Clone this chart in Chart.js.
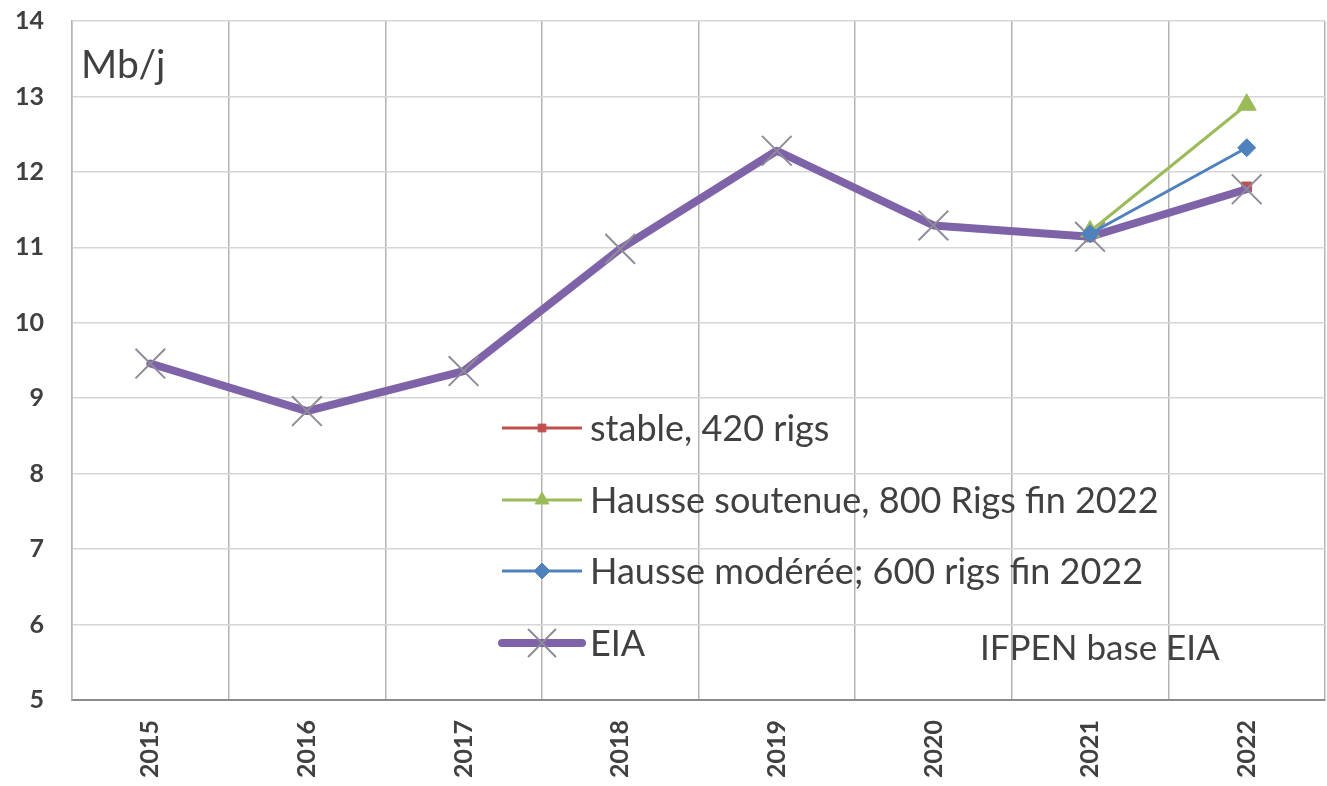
<!DOCTYPE html>
<html>
<head>
<meta charset="utf-8">
<script src="https://cdn.jsdelivr.net/npm/chart.js@4/dist/chart.umd.min.js"></script>
<style>
  html, body { margin: 0; padding: 0; background: #ffffff; overflow: hidden; }
  #wrap { position: relative; width: 1327px; height: 786px; }
  canvas { display: block; }
</style>
</head>
<body>
<div id="wrap"><canvas id="c" width="1327" height="786"></canvas></div>
<script>
// ---- data ----
const years = ['2015', '2016', '2017', '2018', '2019', '2020', '2021', '2022'];
const eia = [9.46, 8.83, 9.36, 10.98, 12.28, 11.29, 11.14, 11.77];
const stable420 = [null, null, null, null, null, null, 11.14, 11.80];
const hausseSoutenue = [null, null, null, null, null, null, 11.21, 12.89];
const hausseModeree = [null, null, null, null, null, null, 11.18, 12.32];
const seriesNames = ['stable, 420 rigs', 'Hausse soutenue, 800 Rigs fin 2022', 'Hausse modérée; 600 rigs fin 2022', 'EIA'];
const yTicks = [5, 6, 7, 8, 9, 10, 11, 12, 13, 14];
const unitLabel = 'Mb/j';
const sourceLabel = 'IFPEN base EIA';

const FONT = 'Lato, "Open Sans", sans-serif';
const TEXT = '#404040';
const RED = '#c0504d', GREEN = '#9bbb59', BLUE = '#4f81bd', PURPLE = '#7f63a8', CROSS = '#8e8c99';

const legendPlugin = {
  id: 'insideLegend',
  afterDatasetsDraw(chart) {
    const ctx = chart.ctx;
    const ys = [428, 500, 571, 643];
    const x0 = 502, x1 = 582, tx = 590;
    ctx.save();
    [0, 1, 2, 3].forEach((idx, i) => {
      const ds = chart.data.datasets[idx];
      const y = ys[i];
      ctx.beginPath();
      ctx.strokeStyle = ds.borderColor;
      ctx.lineWidth = ds.borderWidth;
      ctx.lineCap = idx === 3 ? 'round' : 'butt';
      ctx.moveTo(x0, y);
      ctx.lineTo(x1, y);
      ctx.stroke();
      ctx.fillStyle = ds.pointBackgroundColor;
      ctx.strokeStyle = ds.pointBorderColor;
      ctx.lineWidth = ds.pointBorderWidth;
      Chart.helpers.drawPoint(ctx, {
        pointStyle: ds.pointStyle,
        radius: idx === 3 ? 19 : (idx === 0 ? 5.5 : 8),
        rotation: 0,
        borderWidth: ds.pointBorderWidth
      }, (x0 + x1) / 2, y);
      ctx.fillStyle = TEXT;
      ctx.font = '36px ' + FONT;
      ctx.textBaseline = 'middle';
      ctx.textAlign = 'left';
      ctx.fillText(ds.label, tx, y + 1);
    });
    ctx.restore();
  },
  afterDraw(chart) {
    const ctx = chart.ctx;
    ctx.save();
    ctx.fillStyle = TEXT;
    ctx.textBaseline = 'alphabetic';
    ctx.textAlign = 'left';
    ctx.font = '39px ' + FONT;
    ctx.fillText(unitLabel, 81, 78);
    ctx.font = '35px ' + FONT;
    ctx.fillText(sourceLabel, 980, 660);
    ctx.restore();
  }
};

function noPad(scale) {
  scale.paddingLeft = 0; scale.paddingRight = 0; scale.paddingTop = 0; scale.paddingBottom = 0;
}

new Chart(document.getElementById('c'), {
  type: 'line',
  data: {
    labels: years,
    datasets: [
      {
        label: seriesNames[0], data: stable420, order: 3,
        borderColor: RED, borderWidth: 3,
        pointStyle: 'rect', pointRadius: 7, pointBackgroundColor: RED, pointBorderColor: RED, pointBorderWidth: 1
      },
      {
        label: seriesNames[1], data: hausseSoutenue, order: 1,
        borderColor: GREEN, borderWidth: 3,
        pointStyle: 'triangle', pointRadius: 11, pointBackgroundColor: GREEN, pointBorderColor: GREEN, pointBorderWidth: 1
      },
      {
        label: seriesNames[2], data: hausseModeree, order: 0,
        borderColor: BLUE, borderWidth: 3,
        pointStyle: 'rectRot', pointRadius: 9, pointBackgroundColor: BLUE, pointBorderColor: BLUE, pointBorderWidth: 1
      },
      {
        label: seriesNames[3], data: eia, order: 2,
        borderColor: PURPLE, borderWidth: 8, borderJoinStyle: 'round', borderCapStyle: 'round',
        pointStyle: 'crossRot', pointRadius: 21, pointBackgroundColor: CROSS, pointBorderColor: CROSS, pointBorderWidth: 2
      }
    ]
  },
  options: {
    responsive: false,
    animation: false,
    events: [],
    layout: { autoPadding: false, padding: { top: 21, right: 2, left: 0, bottom: 0 } },
    plugins: { legend: { display: false }, tooltip: { enabled: false } },
    scales: {
      x: {
        offset: true,
        grid: { offset: true, color: '#b4b4b4', lineWidth: 1.5, drawTicks: false },
        border: { color: '#8c8c8c', width: 2 },
        ticks: {
          autoSkip: false, minRotation: 90, maxRotation: 90, padding: 20,
          color: TEXT, font: { family: FONT, size: 25, weight: 'bold' }
        },
        afterFit(scale) { scale.height = 86; noPad(scale); }
      },
      y: {
        min: 5, max: 14,
        afterBuildTicks(scale) { scale.ticks = yTicks.map(v => ({ value: v })); },
        grid: { color: '#d6d6d6', lineWidth: 1.5, drawTicks: false },
        border: { color: '#b4b4b4', width: 1.5 },
        ticks: {
          padding: 28, color: TEXT, font: { family: FONT, size: 25, weight: 'bold' }
        },
        afterFit(scale) { scale.width = 72; noPad(scale); }
      }
    }
  },
  plugins: [legendPlugin]
});
</script>
</body>
</html>
